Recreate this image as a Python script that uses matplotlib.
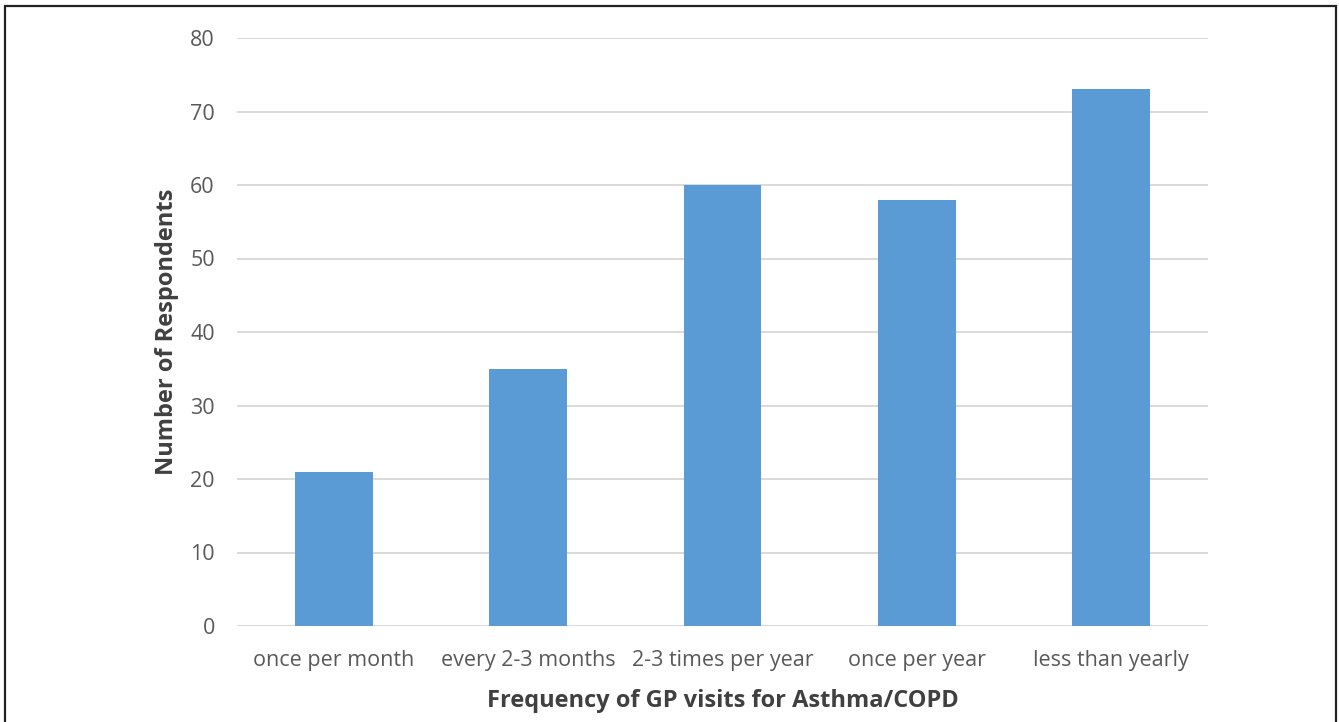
import matplotlib.pyplot as plt
from matplotlib.patches import Rectangle

categories = ["once per month", "every 2-3 months", "2-3 times per year",
              "once per year", "less than yearly"]
respondents = [21, 35, 60, 58, 73]
y_ticks = [0, 10, 20, 30, 40, 50, 60, 70, 80]

W, H = 1339, 722
fig = plt.figure(figsize=(W / 100, H / 100), dpi=100)
plt.rcParams['font.family'] = ['Open Sans', 'DejaVu Sans']

# outer frame of the figure
fig.add_artist(Rectangle((5 / W, -0.05), (1336 - 5) / W, (H - 6) / H + 0.05,
                         transform=fig.transFigure, fill=False,
                         edgecolor='#222222', linewidth=1.6))

ax = fig.add_axes([237 / W, (H - 626) / H, 971 / W, 588 / H])
x = range(len(categories))
ax.bar(x, respondents, width=0.4, color='#5B9BD5', zorder=3)

ax.set_xlim(-0.5, len(categories) - 0.5)
ax.set_ylim(0, 80)
ax.set_yticks(y_ticks)
ax.set_xticks(list(x))
ax.set_xticklabels(categories)
ax.grid(axis='y', color='#D9D9D9', linewidth=1.4, zorder=0)
for s in ax.spines.values():
    s.set_visible(False)
ax.tick_params(axis='both', length=0, labelsize=15.5, labelcolor='#595959')
ax.tick_params(axis='x', pad=17)
ax.tick_params(axis='y', pad=16)

ax.set_ylabel("Number of Respondents", fontsize=17, fontweight='bold',
              color='#404040', labelpad=8)
ax.set_xlabel("Frequency of GP visits for Asthma/COPD", fontsize=17,
              fontweight='bold', color='#404040', labelpad=13)

fig.savefig("out.png", dpi=100)
